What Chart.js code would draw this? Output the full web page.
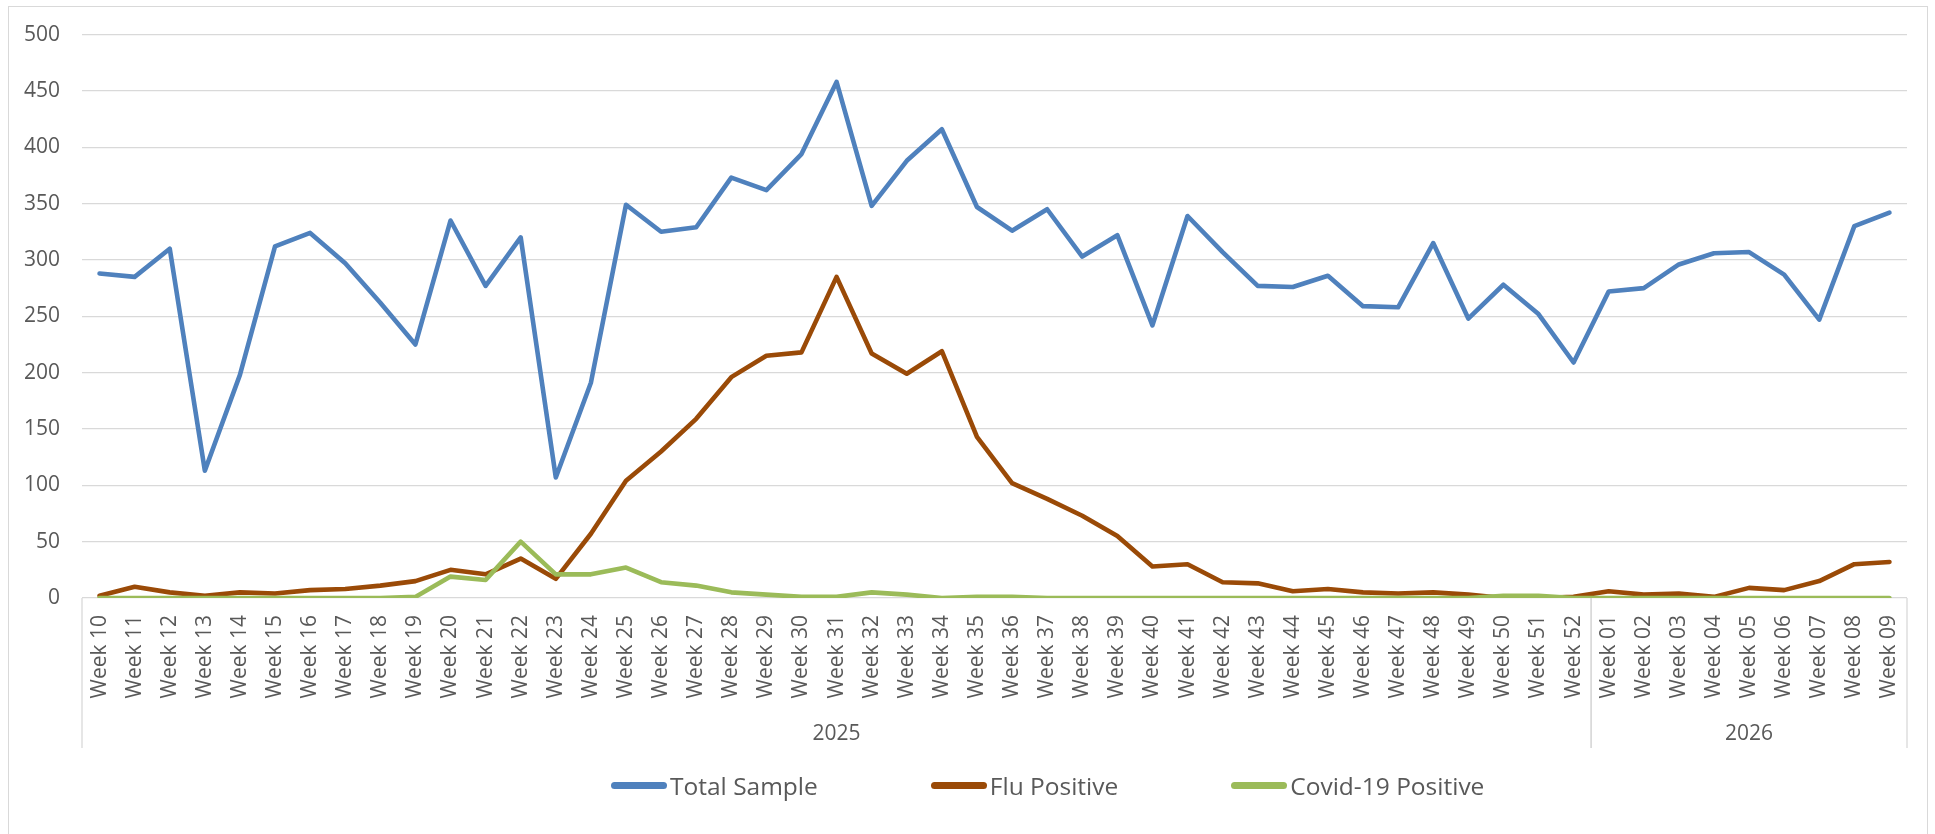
<!DOCTYPE html>
<html>
<head>
<meta charset="utf-8">
<script src="https://cdn.jsdelivr.net/npm/chart.js@4/dist/chart.umd.min.js"></script>
<style>
  html, body { margin:0; padding:0; background:#fff; }
  body { width:1935px; height:834px; position:relative; overflow:hidden; font-family:"Open Sans", sans-serif; }
  #frame { position:absolute; left:8px; top:6px; width:1920px; height:860px; border:1.5px solid #d9d9d9; box-sizing:border-box; }
  #chart { position:absolute; left:0; top:0; }
  #legend { position:absolute; left:611px; top:769px; display:flex; gap:113px; align-items:center; font-size:24.5px; color:#595959; }
  #legend div { display:flex; align-items:center; white-space:nowrap; }
  #legend .swatch { display:inline-block; width:56px; height:7px; border-radius:4px; margin-right:3px; }
</style>
</head>
<body>
<div id="frame"></div>
<canvas id="chart" width="1935" height="834"></canvas>
<div id="legend"></div>
<script>
// weeks 10..52 of 2025, then 01..09 of 2026
const weeks = ['Week 10','Week 11','Week 12','Week 13','Week 14','Week 15','Week 16','Week 17','Week 18','Week 19',
  'Week 20','Week 21','Week 22','Week 23','Week 24','Week 25','Week 26','Week 27','Week 28','Week 29',
  'Week 30','Week 31','Week 32','Week 33','Week 34','Week 35','Week 36','Week 37','Week 38','Week 39',
  'Week 40','Week 41','Week 42','Week 43','Week 44','Week 45','Week 46','Week 47','Week 48','Week 49',
  'Week 50','Week 51','Week 52',
  'Week 01','Week 02','Week 03','Week 04','Week 05','Week 06','Week 07','Week 08','Week 09'];
const years     = ['2025', '2026'];
const yearSpans = [43, 9];

const totalSample = [288,285,310,113,198,312,324,297,262,225,
  335,277,320,107,191,349,325,329,373,362,
  394,458,348,388,416,347,326,345,303,322,
  242,339,307,277,276,286,259,258,315,248,
  278,252,209,
  272,275,296,306,307,287,247,330,342];
const fluPositive = [2,10,5,2,5,4,7,8,11,15,
  25,21,35,17,57,104,130,159,196,215,
  218,285,217,199,219,143,102,88,73,55,
  28,30,14,13,6,8,5,4,5,3,
  0,0,1,
  6,3,4,1,9,7,15,30,32];
const covidPositive = [0,0,0,0,0,0,0,0,0,1,
  19,16,50,21,21,27,14,11,5,3,
  1,1,5,3,0,1,1,0,0,0,
  0,0,0,0,0,0,0,0,0,0,
  2,2,0,
  0,0,0,0,0,0,0,0,0];

const seriesNames  = ['Total Sample', 'Flu Positive', 'Covid-19 Positive'];
const seriesColors = ['#4F81BD', '#9A4A07', '#9BBB59'];
const yTicks = { min: 0, max: 500, step: 50 };

const GRID = '#d9d9d9', TEXT = '#595959';
const AXIS_H = 150;

const yearGroups = {
  id: 'yearGroups',
  afterDraw(chart) {
    const { ctx, chartArea: area, scales: { x } } = chart;
    const step = x.getPixelForValue(1) - x.getPixelForValue(0);
    ctx.save();
    ctx.strokeStyle = GRID;
    ctx.lineWidth = 1.3;
    ctx.fillStyle = TEXT;
    ctx.font = '21px "Open Sans"';
    ctx.textAlign = 'center';
    ctx.textBaseline = 'middle';
    let idx = 0;
    years.forEach((yr, i) => {
      const left  = x.getPixelForValue(idx) - step / 2;
      const right = x.getPixelForValue(idx + yearSpans[i] - 1) + step / 2;
      [left, right].forEach(px => {
        ctx.beginPath();
        ctx.moveTo(px, area.bottom);
        ctx.lineTo(px, area.bottom + AXIS_H);
        ctx.stroke();
      });
      ctx.fillText(yr, (left + right) / 2, area.bottom + AXIS_H - 14);
      idx += yearSpans[i];
    });
    ctx.restore();
  }
};

const chart = new Chart(document.getElementById('chart'), {
  type: 'line',
  data: {
    labels: weeks,
    // later series drawn on top, as in the spreadsheet original
    datasets: [totalSample, fluPositive, covidPositive].map((d, i) => ({
      label: seriesNames[i], data: d, order: 2 - i,
      borderColor: seriesColors[i], backgroundColor: seriesColors[i],
      borderWidth: 4.6, pointRadius: 0, tension: 0,
      borderJoinStyle: 'round', borderCapStyle: 'round'
    }))
  },
  options: {
    responsive: false, animation: false,
    layout: { padding: { left: 0, right: 28, top: 26, bottom: 86 } },
    plugins: { legend: { display: false }, tooltip: { enabled: false } },
    scales: {
      x: {
        offset: true,
        grid: { display: false, drawTicks: false },
        border: { display: false },
        ticks: { autoSkip: false, maxRotation: 90, minRotation: 90, padding: 17, color: TEXT, font: { family: 'Open Sans', size: 21 } },
        afterFit: s => { s.height = AXIS_H; }
      },
      y: {
        min: yTicks.min, max: yTicks.max,
        grid: { color: GRID, lineWidth: 1.3, drawTicks: false },
        border: { display: false },
        ticks: { stepSize: yTicks.step, padding: 22, color: TEXT, font: { family: 'Open Sans', size: 21 } },
        afterFit: s => { s.width = 82; }
      }
    }
  },
  plugins: [yearGroups]
});

document.getElementById('legend').innerHTML = seriesNames
  .map((name, i) => `<div><span class="swatch" style="background:${seriesColors[i]}"></span>${name}</div>`)
  .join('');
</script>
</body>
</html>
